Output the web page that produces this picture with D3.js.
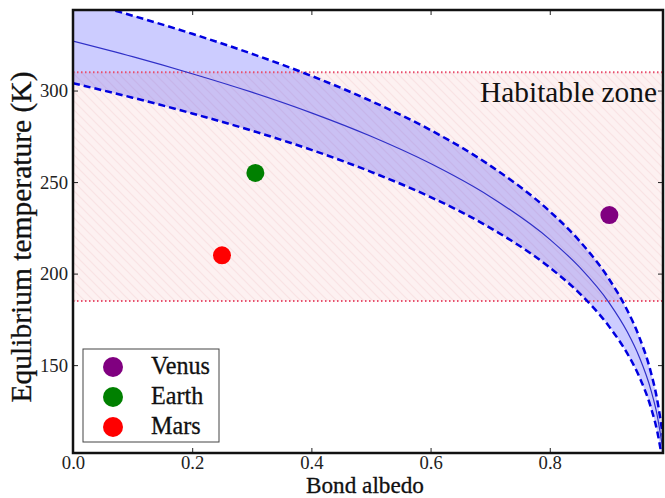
<!DOCTYPE html>
<html>
<head>
<meta charset="utf-8">
<script src="https://cdn.jsdelivr.net/npm/d3@7"></script>
<style>
  body { margin: 0; background: #fff; }
  svg text { font-family: "Liberation Serif", "DejaVu Serif", serif; }
</style>
</head>
<body>
<div id="chart"></div>
<script>
// size of the picture and of the plot box
const width = 665;
const height = 498;
const margin = {left: 73, right: 2, top: 10, bottom: 45};

// albedo samples
const albedo = [0, 0.1, 0.2, 0.3, 0.4, 0.5, 0.6, 0.7, 0.8, 0.85, 0.9, 0.93, 0.95, 0.97, 0.98, 0.99];
// central curve, lower and upper dashed bounds (K)
const tMid   = [327, 318.5, 309.2, 299.1, 287.8, 275.0, 260.1, 242.0, 218.7, 203.5, 183.9, 168.2, 154.6, 136.1, 123.0, 103.4];
const tLow   = [304, 296.1, 287.5, 278.1, 267.6, 255.6, 241.8, 225.0, 203.3, 189.2, 170.9, 156.4, 143.8, 126.5, 114.3, 96.1];
const tHigh  = [350, 340.9, 331.0, 320.1, 308.0, 294.3, 278.4, 259.0, 234.0, 217.8, 196.8, 180.0, 165.5, 145.7, 131.6, 110.7];

// habitable zone limits (K)
const habitable = [185, 310];

// planets
const planetNames = ["Venus", "Earth", "Mars"];
const planetAlbedo = [0.90, 0.306, 0.25];
const planetTemp = [232, 255, 210];
const planetColors = ["purple", "green", "red"];

const xTicks = [0, 0.2, 0.4, 0.6, 0.8];
const yTicks = [150, 200, 250, 300];

const serif = "'Liberation Serif', 'DejaVu Serif', serif";

// shrink or grow a text so it spans the wanted width
function fitText(sel, wanted, start) {
  sel.attr("font-size", start);
  const len = sel.node().getComputedTextLength();
  if (len > 0) sel.attr("font-size", start * wanted / len);
  return sel;
}

const svg = d3.select("#chart")
  .append("svg")
  .attr("width", width)
  .attr("height", height);

// scales
const x = d3.scaleLinear()
  .domain([0, 0.99])
  .range([margin.left, width - margin.right]);

const y = d3.scaleLinear()
  .domain([102, 344])
  .range([height - margin.bottom, margin.top]);

// clip to the plot box
const defs = svg.append("defs");
defs.append("clipPath").attr("id", "clip")
  .append("rect")
  .attr("x", margin.left).attr("y", margin.top)
  .attr("width", width - margin.left - margin.right)
  .attr("height", height - margin.top - margin.bottom);

// hatch pattern for the habitable zone (faint "\" lines)
const pat = defs.append("pattern")
  .attr("id", "hatch")
  .attr("patternUnits", "userSpaceOnUse")
  .attr("width", 9).attr("height", 9);
pat.append("rect").attr("width", 9).attr("height", 9).attr("fill", "#fdf1f1");
pat.append("path")
  .attr("d", "M-1,-1 L10,10 M-1,8 L1,10 M8,-1 L10,1")
  .attr("stroke", "#f9e3e4")
  .attr("stroke-width", 1.2);

const plot = svg.append("g").attr("clip-path", "url(#clip)");

// habitable zone band
plot.append("rect")
  .attr("x", margin.left)
  .attr("y", y(habitable[1]))
  .attr("width", width - margin.left - margin.right)
  .attr("height", y(habitable[0]) - y(habitable[1]))
  .attr("fill", "url(#hatch)");

// blue uncertainty band
const rows = albedo.map((a, i) => ({a: a, mid: tMid[i], low: tLow[i], high: tHigh[i]}));

plot.append("path")
  .datum(rows)
  .attr("fill", "rgba(0,0,255,0.2)")
  .attr("d", d3.area()
    .x(d => x(d.a))
    .y0(d => y(d.low))
    .y1(d => y(d.high))
    .curve(d3.curveMonotoneX));

// dotted limits of the zone
habitable.forEach(t => {
  plot.append("line")
    .attr("x1", margin.left).attr("x2", width - margin.right)
    .attr("y1", y(t)).attr("y2", y(t))
    .attr("stroke", "#e8506e")
    .attr("stroke-width", 2)
    .attr("stroke-dasharray", "1.5,2.5");
});

// dashed bounds and the central curve
["low", "high"].forEach(k => {
  plot.append("path")
    .datum(rows)
    .attr("fill", "none")
    .attr("stroke", "#0000e0")
    .attr("stroke-width", 2.5)
    .attr("stroke-dasharray", "7,4")
    .attr("d", d3.line().x(d => x(d.a)).y(d => y(d[k])).curve(d3.curveMonotoneX));
});

plot.append("path")
  .datum(rows)
  .attr("fill", "none")
  .attr("stroke", "#3030c8")
  .attr("stroke-width", 1.2)
  .attr("d", d3.line().x(d => x(d.a)).y(d => y(d.mid)).curve(d3.curveMonotoneX));

// label
fitText(svg.append("text")
  .attr("x", 657)
  .attr("y", 102)
  .attr("text-anchor", "end")
  .attr("fill", "#111")
  .style("font-family", serif)
  .text("Habitable zone"), 177, 27);

// planets
plot.selectAll(".planet")
  .data(planetNames)
  .enter()
  .append("circle")
    .attr("class", "planet")
    .attr("cx", (d, i) => x(planetAlbedo[i]))
    .attr("cy", (d, i) => y(planetTemp[i]))
    .attr("r", 9)
    .attr("fill", (d, i) => planetColors[i]);

// axes with inward ticks on all four sides
const axB = svg.append("g")
  .attr("transform", `translate(0,${height - margin.bottom})`)
  .call(d3.axisBottom(x).tickValues(xTicks).tickSize(-5).tickPadding(3).tickFormat(d3.format(".1f")));
const axT = svg.append("g")
  .attr("transform", `translate(0,${margin.top})`)
  .call(d3.axisTop(x).tickValues(xTicks).tickSize(-5).tickFormat(""));
const axL = svg.append("g")
  .attr("transform", `translate(${margin.left},0)`)
  .call(d3.axisLeft(y).tickValues(yTicks).tickSize(-5).tickPadding(5));
const axR = svg.append("g")
  .attr("transform", `translate(${width - margin.right},0)`)
  .call(d3.axisRight(y).tickValues(yTicks).tickSize(-5).tickFormat(""));

[axB, axT, axL, axR].forEach(g => {
  g.select(".domain").remove();
  g.selectAll("line").attr("stroke", "#222");
  g.selectAll("text").attr("fill", "#222").style("font-family", serif);
});
// tick label size from the width of "150"
fitText(axL.select(".tick text"), 28, 18);
const tickSize = axL.select(".tick text").attr("font-size");
axL.selectAll("text").attr("font-size", tickSize);
axB.selectAll("text").attr("font-size", tickSize);

// frame
svg.append("rect")
  .attr("x", margin.left).attr("y", margin.top)
  .attr("width", width - margin.left - margin.right)
  .attr("height", height - margin.top - margin.bottom)
  .attr("fill", "none")
  .attr("stroke", "#111")
  .attr("stroke-width", 2.5);

// legend
const leg = svg.append("g");
leg.append("rect")
  .attr("x", 83).attr("y", 349)
  .attr("width", 136).attr("height", 93)
  .attr("fill", "#fff")
  .attr("stroke", "#444")
  .attr("stroke-width", 1);

planetNames.forEach((n, i) => {
  leg.append("circle")
    .attr("cx", 113).attr("cy", 367 + i * 30)
    .attr("r", 10)
    .attr("fill", planetColors[i]);
  leg.append("text")
    .attr("x", 151).attr("y", 374 + i * 30)
    .attr("fill", "#111")
    .attr("stroke", "#111")
    .attr("stroke-width", 0.3)
    .style("font-family", serif)
    .text(n);
});
fitText(leg.select("text"), 59, 22);
leg.selectAll("text").attr("font-size", leg.select("text").attr("font-size"));

// axis titles
fitText(svg.append("text")
  .attr("x", 365)
  .attr("y", 493)
  .attr("text-anchor", "middle")
  .attr("fill", "#111")
  .attr("stroke", "#111")
  .attr("stroke-width", 0.3)
  .style("font-family", serif)
  .text("Bond albedo"), 118, 23);

fitText(svg.append("text")
  .attr("transform", `translate(31,237) rotate(-90)`)
  .attr("text-anchor", "middle")
  .attr("fill", "#111")
  .attr("stroke", "#111")
  .attr("stroke-width", 0.3)
  .style("font-family", serif)
  .text("Equlibrium temperature (K)"), 331, 28);
</script>
</body>
</html>
